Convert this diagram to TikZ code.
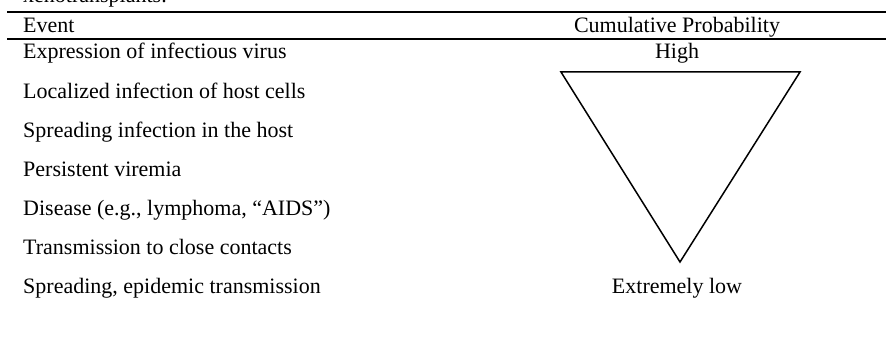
\documentclass[tikz,border=0pt]{standalone}
\usepackage{fontspec}
\setmainfont{Liberation Serif}
\begin{document}
\begin{tikzpicture}[x=1pt,y=-1pt,font=\fontsize{22}{26}\selectfont,
  lbl/.style={inner sep=0pt,anchor=base west},
  mid/.style={inner sep=0pt,anchor=base}]
\useasboundingbox (0,0) rectangle (886,337);
\clip (0,0) rectangle (886,337);
\node[lbl] (title) at (23,3) {xenotransplants.};
\draw[line width=2] (7,12.5) -- (886,12.5);
\node[lbl] (event) at (23,33) {Event};
\node[mid] (cumprob) at (677,33) {Cumulative Probability};
\draw[line width=2] (7,39) -- (886,39);
\node[lbl] (expr) at (23,59) {Expression of infectious virus};
\node[lbl] (local) at (23,98) {Localized infection of host cells};
\node[lbl] (spread) at (23,137) {Spreading infection in the host};
\node[lbl] (viremia) at (23,176) {Persistent viremia};
\node[lbl] (disease) at (23,215) {Disease (e.g., lymphoma, “AIDS”)};
\node[lbl] (contacts) at (23,254) {Transmission to close contacts};
\node[lbl] (epidemic) at (23,293) {Spreading, epidemic transmission};
\node[mid] (high) at (677,59) {High};
\node[mid] (low) at (677,293) {Extremely low};
\draw[line width=1.5] (561,72) -- (800,72) -- (680,262) -- cycle;
\end{tikzpicture}
\end{document}
